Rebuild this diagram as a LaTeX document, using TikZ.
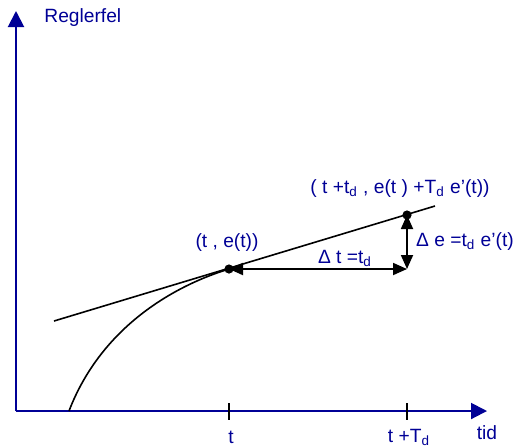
\documentclass[tikz,border=0pt]{standalone}
\usepackage{fontspec}
\setmainfont{Liberation Sans}
\usetikzlibrary{arrows.meta,positioning}
\definecolor{axisblue}{RGB}{0,0,150}

\begin{document}
\begin{tikzpicture}[x=0.5pt,y=-0.5pt,font=\fontsize{9.6}{11}\selectfont,
  axis/.style={line width=1pt,axisblue,-{Triangle[length=8pt,width=8pt]}},
  lbl/.style={axisblue,inner sep=1pt},
  dimarrow/.style={line width=0.9pt,{Triangle[length=7pt,width=6pt]}-{Triangle[length=7pt,width=6pt]}},
  dot/.style={circle,fill=black,inner sep=0pt,minimum size=4.6pt}]
\useasboundingbox (0,0) rectangle (518,447);
% ---------- axes ----------
\coordinate (O) at (16,411);
\coordinate (ytip) at (16,11);
\coordinate (xtip) at (487,411);
\draw[axis] (O) -- (ytip);
\draw[axis] (O) -- (xtip);
\node[lbl,anchor=west] (ylab) at (42,18) {Reglerfel};
\node[lbl] (xlab) at (487,433) {tid};
% ticks
\foreach \x/\lb/\nm in {229/{t}/tick1, 407/{t +T\textsubscript{d}}/tick2}{
  \draw[line width=0.8pt] (\x,403) -- (\x,420);
  \node[lbl] (\nm) at (\x+2,437) {\lb};
}
% ---------- curve and tangent ----------
\coordinate (C0) at (69,411);
\node[dot] (P) at (229,269) {};
\node[dot] (Q) at (407,215) {};
\coordinate (R) at (407,269);
\coordinate (L1) at (54,321);
\coordinate (L2) at (435,206);
\draw[line width=0.8pt] (C0) .. controls (100,330) and (170,287) .. (P.center);
\draw[line width=0.8pt] (L1) -- (L2);
% ---------- increments ----------
\draw[dimarrow] (P.center) -- (R);
\draw[dimarrow] (Q.center) -- (R);
% ---------- labels ----------
\node[lbl] (Plab) at (227,243) {(t , e(t))};
\node[lbl] (Qlab) at (400,189) {( t +t\textsubscript{d} , e(t ) +T\textsubscript{d} e'(t))};
\node[lbl] (dtlab) at (345,258) {Δ t =t\textsubscript{d}};
\node[lbl] (delab) at (465,242) {Δ e =t\textsubscript{d} e'(t)};
\end{tikzpicture}
\end{document}
